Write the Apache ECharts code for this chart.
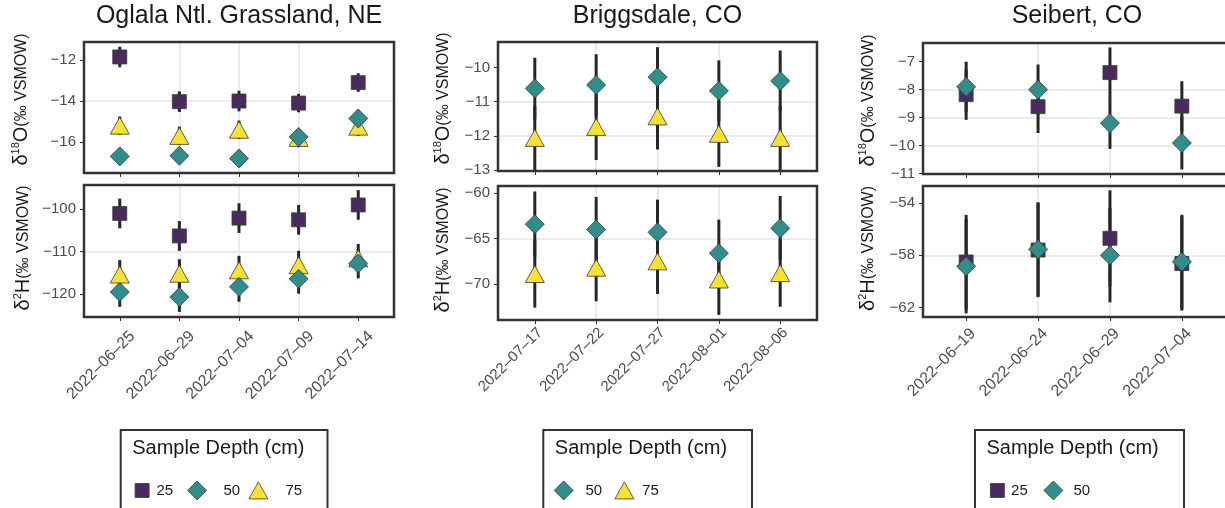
<!DOCTYPE html>
<html>
<head>
<meta charset="utf-8">
<script src="https://cdn.jsdelivr.net/npm/echarts@6/dist/echarts.min.js"></script>
<style>
  html, body { margin: 0; background: #fff; }
  #chart { width: 1225px; height: 508px; }
</style>
</head>
<body>
<div id="chart"></div>
<script>
// Oglala Ntl. Grassland, NE
const oglalaDates = ['2022-06-25', '2022-06-29', '2022-07-04', '2022-07-09', '2022-07-14']
const oglalaO18_25 = [-11.85, -14.03, -14.0, -14.1, -13.1]
const oglalaO18_25sd = [0.5, 0.5, 0.5, 0.45, 0.45]
const oglalaO18_50 = [-16.7, -16.67, -16.8, -15.75, -14.85]
const oglalaO18_50sd = [0.4, 0.4, 0.4, 0.4, 0.4]
const oglalaO18_75 = [-15.2, -15.7, -15.4, -15.8, -15.25]
const oglalaO18_75sd = [0.45, 0.45, 0.45, 0.45, 0.45]
const oglalaH2_25 = [-101.0, -106.3, -102.1, -102.5, -99.0]
const oglalaH2_25sd = [3.5, 3.5, 3.5, 3.5, 3.5]
const oglalaH2_50 = [-119.5, -120.7, -118.3, -116.4, -112.8]
const oglalaH2_50sd = [3.5, 3.5, 3.5, 3.5, 3.5]
const oglalaH2_75 = [-115.4, -115.2, -114.4, -113.2, -111.6]
const oglalaH2_75sd = [3.4, 3.4, 3.4, 3.4, 3.4]

// Briggsdale, CO
const briggsDates = ['2022-07-17', '2022-07-22', '2022-07-27', '2022-08-01', '2022-08-06']
const briggsO18_50 = [-10.61, -10.51, -10.28, -10.68, -10.39]
const briggsO18_50sd = [0.9, 0.9, 0.88, 0.89, 0.89]
const briggsO18_75 = [-12.06, -11.74, -11.43, -11.94, -12.06]
const briggsO18_75sd = [0.94, 0.97, 0.97, 0.97, 0.94]
const briggsH2_50 = [-63.4, -64.0, -64.3, -66.6, -63.85]
const briggsH2_50sd = [3.6, 3.6, 3.6, 3.7, 3.55]
const briggsH2_75 = [-68.9, -68.2, -67.5, -69.5, -68.8]
const briggsH2_75sd = [3.7, 3.7, 3.6, 3.9, 3.7]

// Seibert, CO
const seibertDates = ['2022-06-19', '2022-06-24', '2022-06-29', '2022-07-04']
const seibertO18_25 = [-8.18, -8.61, -7.39, -8.59]
const seibertO18_25sd = [0.9, 0.94, 0.9, 0.89]
const seibertO18_50 = [-7.9, -8.0, -9.2, -9.91]
const seibertO18_50sd = [0.9, 0.9, 0.92, 0.95]
const seibertH2_25 = [-58.51, -57.6, -56.7, -58.63]
const seibertH2_25sd = [3.6, 3.6, 3.67, 3.6]
const seibertH2_50 = [-58.84, -57.54, -58.0, -58.5]
const seibertH2_50sd = [3.6, 3.6, 3.6, 3.6]

// y axis ranges and tick labels
const oglalaO18Range = [-17.51, -11.12]
const oglalaO18Ticks = [-16, -14, -12]
const oglalaH2Range = [-125.4, -94.3]
const oglalaH2Ticks = [-120, -110, -100]
const briggsO18Range = [-13.03, -9.25]
const briggsO18Ticks = [-13, -12, -11, -10]
const briggsH2Range = [-73.96, -59.2]
const briggsH2Ticks = [-70, -65, -60]
const seibertO18Range = [-11.02, -6.33]
const seibertO18Ticks = [-11, -10, -9, -8, -7]
const seibertH2Range = [-62.72, -52.7]
const seibertH2Ticks = [-62, -58, -54]

// panel boxes
const boxes = [
  { left: 84, top: 42, width: 310, height: 131 },
  { left: 84, top: 185, width: 310, height: 132 },
  { left: 498, top: 42, width: 319, height: 129 },
  { left: 498, top: 186, width: 319, height: 134 },
  { left: 923, top: 43, width: 307, height: 131 },
  { left: 923, top: 186, width: 307, height: 131 }
]

const depthStyle = {
  '25': { symbol: 'rect', size: [14, 14], color: '#4a2b5e', z: 10 },
  '50': { symbol: 'diamond', size: [19, 19], color: '#2f8e8a', z: 12 },
  '75': { symbol: 'triangle', size: [19, 17], color: '#f6e232', z: 11 }
}

const gray = '#4d4d4d'
const ink = '#1a1a1a'
const font = 'Liberation Sans, Arial, sans-serif'

const fmtNum = v => (v < 0 ? '\u2212' : '') + Math.abs(v)
const isTick = (ticks, v) => ticks.some(t => Math.abs(t - v) < 1e-6)

const o18Name = '{g|δ}{s|18}{g|O}{t|(‰ VSMOW)}'
const h2Name = '{g|δ}{s|2}{g|H}{t|(‰ VSMOW)}'
const nameStyle = shift => ({
  color: ink,
  padding: [0, 0, 0, shift],
  rich: {
    g: { fontSize: 20, lineHeight: 23, color: ink },
    s: { fontSize: 11, lineHeight: 11, verticalAlign: 'top', color: ink },
    t: { fontSize: 16, lineHeight: 23, color: ink }
  }
})

const xAxes = []
const yAxes = []
const series = []

function xAxisFor(gridIndex, dates, label) {
  return {
    type: 'value', gridIndex,
    min: 0.4, max: dates.length + 0.6, minInterval: 1, maxInterval: 1,
    axisLine: { show: false },
    axisTick: { show: true, length: 4, lineStyle: { color: '#333', width: 1 }, customValues: dates.map((d, i) => i + 1) },
    splitLine: { show: true, showMinLine: false, showMaxLine: false, lineStyle: { color: '#ebebeb', width: 2 } },
    axisLabel: label ? {
      customValues: dates.map((d, i) => i + 1),
      formatter: v => Number.isInteger(v) && dates[v - 1] ? dates[v - 1].replace(/-/g, '–') : '',
      showMinLabel: true, showMaxLabel: true, hideOverlap: false,
      rotate: 45, align: 'right', verticalAlign: 'top',
      fontSize: label.fontSize, lineHeight: label.lineHeight, margin: label.margin, color: gray
    } : { show: false }
  }
}

function yAxisFor(gridIndex, range, ticks, name, gap, shift) {
  const step = ticks[1] - ticks[0]
  return {
    type: 'value', gridIndex,
    min: range[0], max: range[1], minInterval: step, maxInterval: step,
    name, nameLocation: 'middle', nameGap: gap, nameTextStyle: nameStyle(shift),
    axisLine: { show: false },
    axisTick: { show: true, length: 4, lineStyle: { color: '#333', width: 1 }, customValues: ticks },
    axisLabel: { customValues: ticks, formatter: v => isTick(ticks, v) ? fmtNum(v) : '', fontSize: 15, color: gray, margin: 8 },
    splitLine: { show: true, showMinLine: false, showMaxLine: false, lineStyle: { color: '#ebebeb', width: 2 } }
  }
}

function addDepth(axisIdx, depth, means, sds) {
  series.push({
    type: 'custom', xAxisIndex: axisIdx, yAxisIndex: axisIdx, z: 1, silent: true,
    encode: { x: 0, y: [1, 2] },
    data: means.map((m, i) => [i + 1, m - sds[i], m + sds[i]]),
    renderItem: (params, api) => {
      const a = api.coord([api.value(0), api.value(1)])
      const b = api.coord([api.value(0), api.value(2)])
      return { type: 'line', shape: { x1: a[0], y1: a[1], x2: b[0], y2: b[1] }, style: { stroke: '#262626', lineWidth: 3 } }
    }
  })
  const s = depthStyle[depth]
  series.push({
    type: 'scatter', name: depth, xAxisIndex: axisIdx, yAxisIndex: axisIdx, z: s.z,
    symbol: s.symbol, symbolSize: s.size,
    data: means.map((m, i) => [i + 1, m]),
    itemStyle: { color: s.color, borderColor: '#3a3a3a', borderWidth: 0.8, opacity: 1 },
    emphasis: { disabled: true }
  })
}

// Oglala
xAxes.push(xAxisFor(0, oglalaDates, null))
xAxes.push(xAxisFor(1, oglalaDates, { fontSize: 16, lineHeight: 36, margin: 4 }))
yAxes.push(yAxisFor(0, oglalaO18Range, oglalaO18Ticks, o18Name, 51, 16))
yAxes.push(yAxisFor(1, oglalaH2Range, oglalaH2Ticks, h2Name, 49, 6))
addDepth(0, '25', oglalaO18_25, oglalaO18_25sd)
addDepth(0, '50', oglalaO18_50, oglalaO18_50sd)
addDepth(0, '75', oglalaO18_75, oglalaO18_75sd)
addDepth(1, '25', oglalaH2_25, oglalaH2_25sd)
addDepth(1, '50', oglalaH2_50, oglalaH2_50sd)
addDepth(1, '75', oglalaH2_75, oglalaH2_75sd)

// Briggsdale
xAxes.push(xAxisFor(2, briggsDates, null))
xAxes.push(xAxisFor(3, briggsDates, { fontSize: 15, lineHeight: 15, margin: 5 }))
yAxes.push(yAxisFor(2, briggsO18Range, briggsO18Ticks, o18Name, 43, 16))
yAxes.push(yAxisFor(3, briggsH2Range, briggsH2Ticks, h2Name, 43, 6))
addDepth(2, '50', briggsO18_50, briggsO18_50sd)
addDepth(2, '75', briggsO18_75, briggsO18_75sd)
addDepth(3, '50', briggsH2_50, briggsH2_50sd)
addDepth(3, '75', briggsH2_75, briggsH2_75sd)

// Seibert
xAxes.push(xAxisFor(4, seibertDates, null))
xAxes.push(xAxisFor(5, seibertDates, { fontSize: 16, lineHeight: 20, margin: 7 }))
yAxes.push(yAxisFor(4, seibertO18Range, seibertO18Ticks, o18Name, 43, 16))
yAxes.push(yAxisFor(5, seibertH2Range, seibertH2Ticks, h2Name, 43, 6))
addDepth(4, '25', seibertO18_25, seibertO18_25sd)
addDepth(4, '50', seibertO18_50, seibertO18_50sd)
addDepth(5, '25', seibertH2_25, seibertH2_25sd)
addDepth(5, '50', seibertH2_50, seibertH2_50sd)

// legend keys: [depth, key centre x, text start x]
const legendKeys = [
  ['25', 141.7, 156], ['50', 196.7, 223], ['75', 258, 285],
  ['50', 563.3, 585], ['75', 624, 641.7],
  ['25', 997, 1010.7], ['50', 1053, 1073]
]
const legends = legendKeys.map(([depth, cx, tx]) => {
  const s = depthStyle[depth]
  const [w, h] = s.size
  return {
    data: [{ name: depth, icon: s.symbol }],
    left: cx - w / 2, top: 490 - h / 2, padding: 0,
    itemWidth: w, itemHeight: h, selectedMode: false,
    itemStyle: { borderColor: '#3a3a3a', borderWidth: 0.8 },
    textStyle: { fontSize: 15, color: ink, padding: [0, 0, 0, tx - (cx + w / 2) - 5] }
  }
})

const legendBoxes = [[120.7, 327.5], [543.3, 752], [975, 1184]]

const titleStyle = { fontSize: 25, fontWeight: 'normal', color: ink, fontFamily: font }
const titles = [
  { text: 'Oglala Ntl. Grassland, NE', left: 239, top: 4 },
  { text: 'Briggsdale, CO', left: 657.5, top: 4 },
  { text: 'Seibert, CO', left: 1077, top: 4 }
].map(t => ({ ...t, textAlign: 'center', padding: 0, textStyle: titleStyle }))
legendBoxes.forEach(([x0]) => titles.push({
  text: 'Sample Depth (cm)', left: x0 + 11.5, top: 438, padding: 0,
  textStyle: { fontSize: 20, fontWeight: 'normal', color: ink, fontFamily: font }
}))

const frames = boxes.map(b => ({
  type: 'rect', z: 100, silent: true,
  shape: { x: b.left, y: b.top, width: b.width, height: b.height },
  style: { fill: 'none', stroke: '#333', lineWidth: 2.5 }
}))
legendBoxes.forEach(([x0, x1]) => frames.push({
  type: 'rect', z: 100, silent: true,
  shape: { x: x0, y: 430, width: x1 - x0, height: 100 },
  style: { fill: 'none', stroke: '#333', lineWidth: 2 }
}))

const chart = echarts.init(document.getElementById('chart'), null, { renderer: 'canvas' })
chart.setOption({
  animation: false,
  textStyle: { fontFamily: font },
  title: titles,
  grid: boxes.map(b => ({ ...b, show: false, containLabel: false })),
  xAxis: xAxes,
  yAxis: yAxes,
  legend: legends,
  graphic: frames,
  series
})
</script>
</body>
</html>
